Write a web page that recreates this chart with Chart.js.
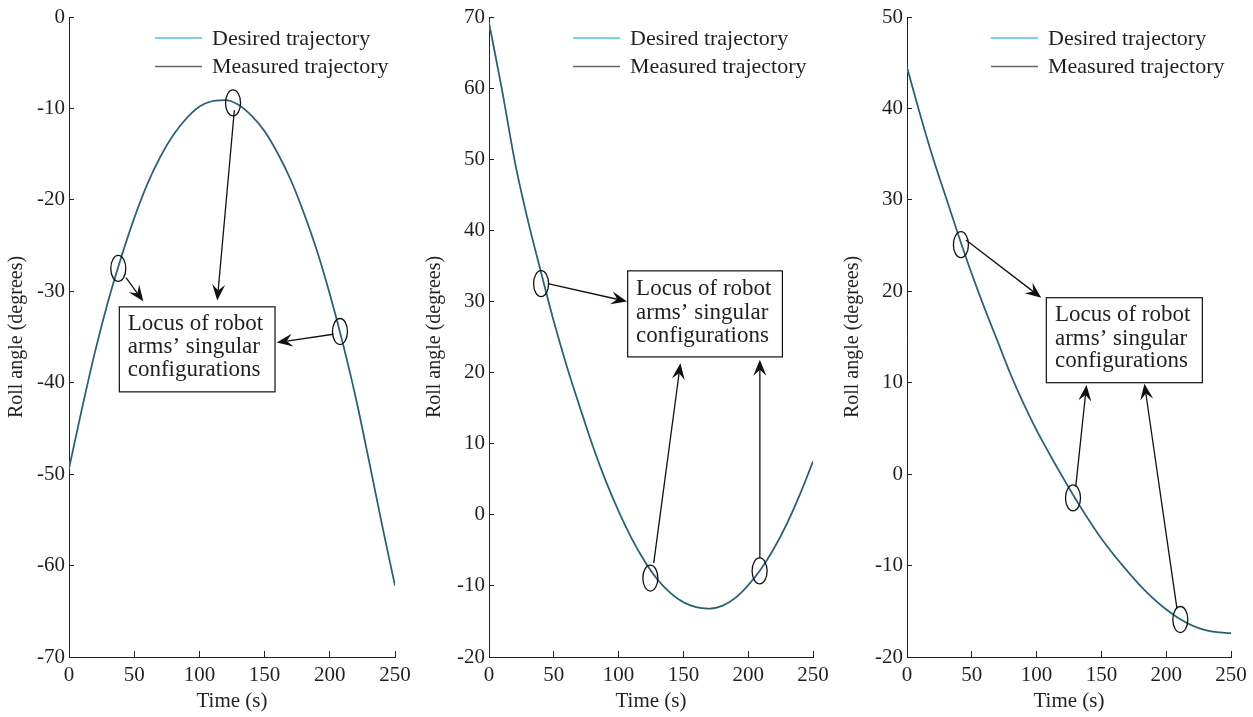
<!DOCTYPE html>
<html lang="en">
<head>
    <meta charset="UTF-8">
    <title>Roll angle - desired and measured trajectories</title>
    <script src="https://cdn.jsdelivr.net/npm/chart.js"></script>
    <style>
        body { margin: 0; background: #fff; }
        canvas { position: absolute; top: 0; }
    </style>
</head>
<body>
    <canvas id="panel1" width="418" height="717" style="left:0px"></canvas>
    <canvas id="panel2" width="418" height="717" style="left:418px"></canvas>
    <canvas id="panel3" width="417" height="717" style="left:836px"></canvas>
    <script>
        // Time axis (s), one sample every 10 s
        const time = [0, 10, 20, 30, 40, 50, 60, 70, 80, 90, 100, 110, 120, 130, 140, 150, 160, 170, 180, 190, 200, 210, 220, 230, 240, 250];

        // Roll angle (degrees)
        const roll1 = [-49.4, -42.8, -36.6, -31.1, -26.3, -22.0, -18.3, -15.3, -12.9, -11.1, -9.8, -9.2, -9.1, -9.6, -10.8, -12.5, -14.9, -17.8, -21.4, -25.5, -30.3, -35.7, -41.7, -48.5, -55.5, -62.2];
        const roll2 = [69.2, 59.8, 49.6, 41.4, 34.2, 27.2, 20.9, 15.2, 9.7, 4.8, 0.5, -3.3, -6.5, -9.1, -11.0, -12.3, -13.0, -13.2, -12.8, -11.7, -9.9, -7.6, -4.7, -1.2, 2.9, 7.5];
        const roll3 = [44.5, 39.4, 34.6, 30.3, 26.0, 21.9, 18.1, 14.5, 10.9, 7.7, 4.8, 2.2, -0.3, -2.7, -4.95, -7.05, -8.9, -10.6, -12.2, -13.6, -14.8, -15.8, -16.55, -17.05, -17.3, -17.4];

        // Singular configurations (time, angle) circled on each panel
        const sing1T = [37.8, 125.8, 207.8];
        const sing1A = [-27.5, -9.4, -34.4];
        const sing2T = [40.2, 124.5, 208.8];
        const sing2A = [32.5, -8.9, -7.9];
        const sing3T = [41.6, 128.1, 210.9];
        const sing3A = [25.1, -2.6, -15.9];

        // Axis ranges and labels
        const yRange1 = [-70, 0];
        const yRange2 = [-20, 70];
        const yRange3 = [-20, 50];
        const seriesNames = ['Desired trajectory', 'Measured trajectory'];
        const noteLines = ['Locus of robot', 'arms\u2019 singular', 'configurations'];

        const ink = '#231f20';
        const serif = '"Liberation Serif", "Times New Roman", serif';

        function arrow(ctx, x1, y1, x2, y2) {
            const a = Math.atan2(y2 - y1, x2 - x1);
            const c = Math.cos(a), s = Math.sin(a);
            const L = 16, W = 6.5, N = 10;
            ctx.beginPath();
            ctx.moveTo(x1, y1);
            ctx.lineTo(x2 - N * c, y2 - N * s);
            ctx.stroke();
            ctx.beginPath();
            ctx.moveTo(x2, y2);
            ctx.lineTo(x2 - L * c + W * s, y2 - L * s - W * c);
            ctx.lineTo(x2 - N * c, y2 - N * s);
            ctx.lineTo(x2 - L * c - W * s, y2 - L * s + W * c);
            ctx.closePath();
            ctx.fill();
        }

        // Legend, circles, arrows and the text box, placed through the chart scales
        const notesPlugin = {
            id: 'notes',
            afterDatasetsDraw(chart, args, opts) {
                const ctx = chart.ctx;
                const area = chart.chartArea;
                const px = t => chart.scales.x.getPixelForValue(t);
                const py = v => chart.scales.y.getPixelForValue(v);
                ctx.save();

                // legend inside the plot, top right
                ctx.font = '22px ' + serif;
                ctx.textBaseline = 'middle';
                ctx.textAlign = 'left';
                chart.data.datasets.forEach((ds, i) => {
                    const y = area.top + 21 + i * 28.5;
                    const x = area.right - 240;
                    ctx.strokeStyle = i === 0 ? ds.borderColor : '#666';
                    ctx.lineWidth = 1.5;
                    ctx.beginPath();
                    ctx.moveTo(x, y);
                    ctx.lineTo(x + 47, y);
                    ctx.stroke();
                    ctx.fillStyle = ink;
                    ctx.fillText(ds.label, x + 57, y + 1);
                });

                ctx.strokeStyle = '#111';
                ctx.fillStyle = '#111';
                ctx.lineWidth = 1.3;

                // circles around singular points
                opts.singT.forEach((t, i) => {
                    ctx.beginPath();
                    ctx.ellipse(px(t), py(opts.singA[i]), 7.5, 13, 0, 0, 2 * Math.PI);
                    ctx.stroke();
                });

                // arrows towards the text box
                opts.arrows.forEach(a => arrow(ctx, px(a[0]), py(a[1]), px(a[2]), py(a[3])));

                // text box
                const b = opts.box;
                const bx = px(b[0]), by = py(b[1]);
                const bw = px(b[2]) - bx, bh = py(b[3]) - by;
                ctx.fillStyle = '#fff';
                ctx.fillRect(bx, by, bw, bh);
                ctx.lineWidth = 1.2;
                ctx.strokeRect(bx, by, bw, bh);
                ctx.fillStyle = ink;
                ctx.font = '23px ' + serif;
                ctx.textBaseline = 'alphabetic';
                noteLines.forEach((line, i) => {
                    ctx.fillText(line, px(opts.textT), py(opts.textV[i]));
                });

                ctx.restore();
            }
        };

        function toPoints(values) {
            return time.map((t, i) => ({ x: t, y: values[i] }));
        }

        function makeChart(id, values, yRange, yWidth, padRight, notes) {
            return new Chart(document.getElementById(id), {
                type: 'line',
                data: {
                    datasets: [{
                        label: seriesNames[0],
                        data: toPoints(values),
                        borderColor: '#4cc4de',
                        borderWidth: 1.8,
                        pointRadius: 0,
                        cubicInterpolationMode: 'monotone',
                        order: 2
                    }, {
                        label: seriesNames[1],
                        data: toPoints(values),
                        borderColor: 'rgba(40, 50, 55, 0.72)',
                        borderWidth: 1.5,
                        pointRadius: 0,
                        cubicInterpolationMode: 'monotone',
                        order: 1
                    }]
                },
                options: {
                    responsive: false,
                    animation: false,
                    devicePixelRatio: 1,
                    layout: { padding: { left: 0, right: padRight, top: 17, bottom: 0 } },
                    plugins: {
                        legend: { display: false },
                        tooltip: { enabled: false },
                        notes: notes
                    },
                    scales: {
                        x: {
                            type: 'linear',
                            min: 0,
                            max: 250,
                            ticks: { stepSize: 50, padding: 12, color: ink, font: { family: serif, size: 21 } },
                            grid: { drawOnChartArea: false, tickLength: -6, color: '#222' },
                            border: { color: '#222', width: 1 },
                            title: { display: true, text: 'Time (s)', color: ink, padding: { top: 0, bottom: 3 }, font: { family: serif, size: 21 } },
                            afterFit: scale => {
                                scale.height = 60;
                                scale.paddingLeft = 0;
                                scale.paddingRight = 0;
                            }
                        },
                        y: {
                            min: yRange[0],
                            max: yRange[1],
                            ticks: { stepSize: 10, padding: 9, color: ink, font: { family: serif, size: 21 } },
                            grid: { drawOnChartArea: false, tickLength: -5, color: '#222' },
                            border: { color: '#222', width: 1 },
                            title: { display: true, text: 'Roll angle (degrees)', color: ink, padding: { top: 5, bottom: 0 }, font: { family: serif, size: 20 } },
                            afterFit: scale => {
                                scale.width = yWidth;
                                scale.paddingTop = 0;
                                scale.paddingBottom = 0;
                            }
                        }
                    }
                },
                plugins: [notesPlugin]
            });
        }

        makeChart('panel1', roll1, yRange1, 69, 23, {
            singT: sing1T, singA: sing1A,
            arrows: [[43.7, -28.5, 57.0, -31.1], [126.8, -10.2, 113.7, -31.0], [202.7, -34.7, 159.3, -35.6]],
            box: [38.6, -31.7, 158.0, -41.0],
            textT: 45.0, textV: [-34.2, -36.7, -39.3]
        });

        makeChart('panel2', roll2, yRange2, 71, 23, {
            singT: sing2T, singA: sing2A,
            arrows: [[45.4, 32.5, 106.5, 30.0], [127.1, -6.8, 147.7, 21.3], [209.0, -6.1, 209.0, 21.8]],
            box: [107.0, 34.3, 226.4, 22.2],
            textT: 113.5, textV: [30.9, 27.6, 24.3]
        });

        makeChart('panel3', roll3, yRange3, 71, 22, {
            singT: sing3T, singA: sing3A,
            arrows: [[45.5, 25.6, 103.6, 19.3], [130.2, -1.4, 138.5, 9.75], [208.3, -14.7, 183.2, 9.9]],
            box: [107.5, 19.3, 227.9, 10.0],
            textT: 114.2, textV: [16.7, 14.1, 11.7]
        });
    </script>
</body>
</html>
